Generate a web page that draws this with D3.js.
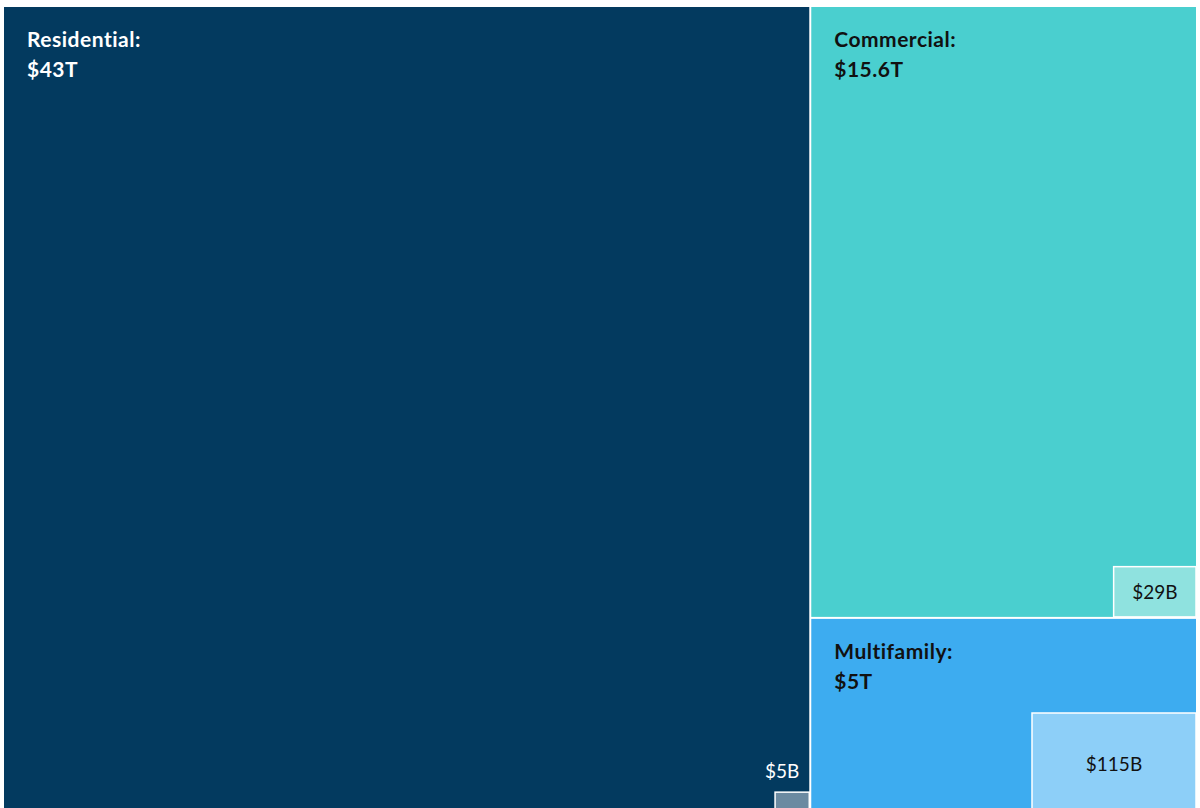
<!DOCTYPE html>
<html>
<head>
<meta charset="utf-8">
<script src="https://cdn.jsdelivr.net/npm/d3@7"></script>
<style>
  html, body { margin: 0; padding: 0; background: #ffffff; overflow: hidden; }
  svg { display: block; }
</style>
</head>
<body>
<svg id="chart" width="1200" height="808"></svg>
<script>
// Outstanding mortgage debt by property type (values in $ billions)
const categories = ["Residential", "Commercial", "Multifamily"];
const totals = [43000, 15600, 5000];
const totalLabels = ["$43T", "$15.6T", "$5T"];
// A smaller highlighted amount inside each segment (values in $ billions)
const subValues = [5, 29, 115];
const subLabels = ["$5B", "$29B", "$115B"];

const fills = ["#033a5f", "#4acfcf", "#3dacf0"];
const subFills = ["#6b8aa1", "#8fe2df", "#8dcff8"];
const textColors = ["#ffffff", "#111111", "#111111"];

const svg = d3.select("#chart");
const W = 1192, H = 806;
const g = svg.append("g").attr("transform", "translate(4,7)");

const root = d3.hierarchy({
  children: categories.map((c, i) => ({ name: c, value: totals[i], i }))
}).sum(d => d.value || 0).sort((a, b) => b.value - a.value);

d3.treemap()
  .tile(d3.treemapSquarify)
  .size([W, H])
  .paddingInner(2)
  .round(false)(root);

const leaves = root.leaves();

const cell = g.selectAll("g.cell")
  .data(leaves)
  .join("g")
  .attr("class", "cell");

cell.append("rect")
  .attr("x", d => d.x0)
  .attr("y", d => d.y0)
  .attr("width", d => d.x1 - d.x0)
  .attr("height", d => d.y1 - d.y0)
  .attr("fill", d => fills[d.data.i]);

// Inner boxes: area proportional to value, fixed aspect ratio, anchored bottom-right
const areaScale = d3.scaleLinear().domain([0, 115]).range([0, 16400]);
const aspect = 1.64;

cell.each(function (d) {
  const i = d.data.i;
  const a = areaScale(subValues[i]);
  const w = Math.sqrt(a * aspect);
  const h = a / w;
  const bx = d.x1 - w, by = d.y1 - h;
  const sel = d3.select(this);
  sel.append("rect")
    .attr("x", bx).attr("y", by)
    .attr("width", w).attr("height", h)
    .attr("fill", subFills[i])
    .attr("stroke", "#ffffff")
    .attr("stroke-width", 1.5);

  // Boxes too small to hold their label get it placed just above them
  const small = w < 60;
  sel.append("text")
    .attr("x", small ? d.x1 - 10 : bx + w / 2)
    .attr("y", small ? by - 14 : by + h / 2)
    .attr("text-anchor", small ? "end" : "middle")
    .attr("dominant-baseline", small ? "alphabetic" : "central")
    .attr("font-family", "Lato, 'Open Sans', sans-serif")
    .attr("font-weight", 400)
    .attr("font-size", 19)
    .attr("fill", textColors[i])
    .text(subLabels[i]);
});

// Category name and total
const labelFont = { family: "Lato, 'Open Sans', sans-serif", size: 21, spacing: 0.5 };

cell.append("text")
  .attr("x", d => d.x0 + 23)
  .attr("y", d => d.y0 + 40)
  .attr("font-family", labelFont.family)
  .attr("font-weight", 700)
  .attr("font-size", labelFont.size)
  .attr("letter-spacing", labelFont.spacing)
  .attr("fill", d => textColors[d.data.i])
  .text(d => d.data.name + ":");

cell.append("text")
  .attr("x", d => d.x0 + 23)
  .attr("y", d => d.y0 + 70)
  .attr("font-family", labelFont.family)
  .attr("font-weight", 700)
  .attr("font-size", labelFont.size)
  .attr("letter-spacing", labelFont.spacing)
  .attr("fill", d => textColors[d.data.i])
  .text(d => totalLabels[d.data.i]);
</script>
</body>
</html>
